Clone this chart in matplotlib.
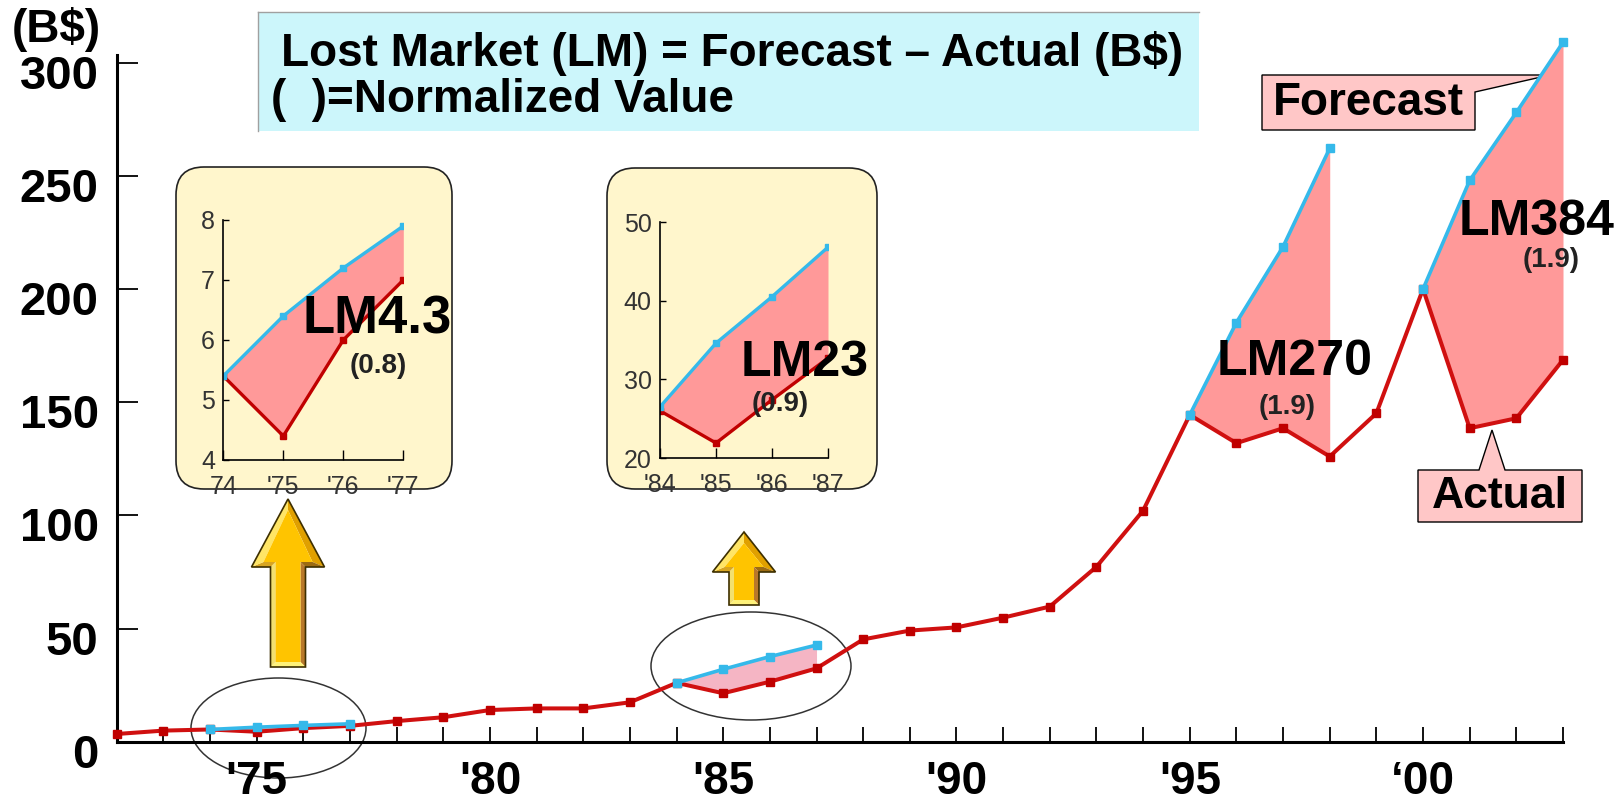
import numpy as np
import matplotlib.pyplot as plt
from matplotlib.patches import Rectangle, FancyBboxPatch, Ellipse, Polygon
from matplotlib.transforms import ScaledTranslation

plt.rcParams['font.family'] = ['Liberation Sans', 'DejaVu Sans']

W, H = 1621, 806

# market size (B$), actual results 1972-2003
years = np.arange(1972, 2004)
actual = [3.4, 4.9, 5.4, 4.4, 6.0, 7.0, 9.1, 10.8, 14.0, 14.7,
          14.7, 17.4, 26.0, 21.4, 26.5, 32.4, 45.2, 49.1, 50.5, 54.8,
          59.7, 77.3, 102.1, 144.4, 131.9, 138.5, 126.0, 145.1, 200.0, 138.5,
          142.9, 168.7]

# forecasts made at the start of each downturn
fc_years = [[1974, 1975, 1976, 1977],
            [1984, 1985, 1986, 1987],
            [1995, 1996, 1997, 1998],
            [2000, 2001, 2002, 2003]]
forecast = [[5.4, 6.4, 7.2, 7.9],
            [26.0, 32.0, 37.6, 42.7],
            [144.4, 185.2, 218.7, 262.2],
            [200.0, 248.0, 278.0, 309.0]]
fill_colors = ['#FF9999', '#F5B5C4', '#FF9999', '#FF9999']

# close-ups of the two early downturns
zoom1_years = [1974, 1975, 1976, 1977]
zoom1_labels = ['74', "'75", "'76", "'77"]
zoom1_fc = [5.4, 6.4, 7.2, 7.9]
zoom1_ac = [5.4, 4.4, 6.0, 7.0]

zoom2_years = [1984, 1985, 1986, 1987]
zoom2_labels = ["'84", "'85", "'86", "'87"]
zoom2_fc = [26.5, 34.6, 40.5, 46.8]
zoom2_ac = [26.0, 21.9, 27.4, 32.7]

xtick_text = {1975: "'75", 1980: "'80", 1985: "'85", 1990: "'90", 1995: "'95", 2000: "\u201800"}

RED = '#D01010'
CYAN = '#35B9EA'


def px_rect(x0, y0, x1, y1):
    return [x0 / W, 1 - y1 / H, (x1 - x0) / W, (y1 - y0) / H]


def px_text(x, y, s, **kw):
    fig.text(x / W, 1 - y / H, s, **kw)


def block_arrow(ax, cx, top, hb, bottom, shaft_w, head_w, d=5):
    s, h = shaft_w / 2, head_w / 2
    outer = [(cx, top), (cx + h, hb), (cx + s, hb), (cx + s, bottom),
             (cx - s, bottom), (cx - s, hb), (cx - h, hb)]
    inner = [(cx, top + 2.2 * d), (cx + h - 2.4 * d, hb - d), (cx + s - d, hb - d),
             (cx + s - d, bottom - d), (cx - s + d, bottom - d), (cx - s + d, hb - d),
             (cx - h + 2.4 * d, hb - d)]
    shades = ['#E0A000', '#9C6B12', '#B8782A', '#FFF27A', '#F2E070', '#D8A520', '#FFE566']
    for i in range(7):
        j = (i + 1) % 7
        ax.add_patch(Polygon([outer[i], outer[j], inner[j], inner[i]],
                             fc=shades[i], ec='none', zorder=2))
    ax.add_patch(Polygon(inner, fc='#FFC400', ec='none', zorder=3))
    ax.add_patch(Polygon(outer, fill=False, ec='#3D2F00', lw=1.2, zorder=4))


fig = plt.figure(figsize=(W / 100, H / 100), dpi=100)

# pixel-space layer for boxes, arrows and circles
bg = fig.add_axes([0, 0, 1, 1], zorder=0)
bg.set_xlim(0, W)
bg.set_ylim(H, 0)
bg.axis('off')

bg.add_patch(Rectangle((258, 12), 941, 119, fc='#CCF6FB', ec='none'))
bg.plot([258, 1199], [12, 12], color='#A0A0A0', lw=1)
bg.plot([258, 258], [12, 131], color='#A0A0A0', lw=1)

bg.add_patch(FancyBboxPatch((176, 167), 276, 322, boxstyle='round,pad=0,rounding_size=28',
                            fc='#FFF6CC', ec='#222222', lw=1.2))
bg.add_patch(FancyBboxPatch((607, 168), 270, 321, boxstyle='round,pad=0,rounding_size=28',
                            fc='#FFF6CC', ec='#222222', lw=1.2))

block_arrow(bg, 288, 499, 567, 667, 35, 73)
block_arrow(bg, 744, 532, 572, 605, 30, 63)

bg.add_patch(Ellipse((278.5, 728), 175, 100, fill=False, ec='#333333', lw=1.1))
bg.add_patch(Ellipse((751, 666), 200, 108, fill=False, ec='#333333', lw=1.1))

bg.add_patch(Polygon([(1262, 75), (1550, 75), (1475, 92), (1475, 130), (1262, 130)],
                     fc='#FFC7C7', ec='black', lw=1))
bg.add_patch(Polygon([(1418, 470), (1479, 470), (1492, 430), (1505, 470), (1582, 470),
                      (1582, 522), (1418, 522)], fc='#FFC7C7', ec='black', lw=1))

# main chart
ax = fig.add_axes(px_rect(116.7, 55, 1563, 741.7), zorder=1)
ax.set_facecolor('none')
actual_arr = np.array(actual)
for fy, fv, fc in zip(fc_years, forecast, fill_colors):
    fy = np.array(fy)
    ax.fill_between(fy, fv, actual_arr[fy - 1972], color=fc, lw=0, zorder=1, clip_on=False)
    ax.plot(fy, fv, color=CYAN, lw=2.6, marker='s', ms=5.5, zorder=4, clip_on=False)
ax.plot(years, actual, color=RED, lw=2.9, marker='s', ms=5.5, mfc='#C00000', mec='#C00000',
        zorder=3, clip_on=False)

ax.set_xlim(1972, 2003)
ax.set_ylim(0, 303.4)
ax.set_xticks(years)
ax.set_xticklabels([xtick_text.get(y, '') for y in years])
ax.set_yticks(np.arange(0, 301, 50))
for side in ['top', 'right']:
    ax.spines[side].set_visible(False)
for side in ['left', 'bottom']:
    ax.spines[side].set_linewidth(2.2)
ax.tick_params(axis='x', direction='in', length=11, width=1.3, pad=13, labelsize=33)
ax.tick_params(axis='y', direction='in', length=15, width=1.3, pad=13, labelsize=34)
shift = ScaledTranslation(0, -9 / 100, fig.dpi_scale_trans)
for lbl in ax.get_xticklabels() + ax.get_yticklabels():
    lbl.set_fontweight('bold')
for lbl in ax.get_yticklabels():
    lbl.set_transform(lbl.get_transform() + shift)


def close_up(rect, xs, labels, fc, ac, ylim, yticks):
    ins = fig.add_axes(rect, zorder=2)
    ins.set_facecolor('none')
    ins.fill_between(xs, fc, ac, color='#FF9999', lw=0)
    ins.plot(xs, ac, color='#C00000', lw=2.4, marker='s', ms=4)
    ins.plot(xs, fc, color=CYAN, lw=2.4, marker='s', ms=4)
    ins.set_xlim(xs[0], xs[-1])
    ins.set_ylim(*ylim)
    ins.set_xticks(xs)
    ins.set_xticklabels(labels)
    ins.set_yticks(yticks)
    for side in ['top', 'right']:
        ins.spines[side].set_visible(False)
    for side in ['left', 'bottom']:
        ins.spines[side].set_linewidth(1.2)
    ins.tick_params(axis='x', direction='in', length=7, width=1, pad=11,
                    labelsize=18, labelcolor='#333333')
    ins.tick_params(axis='y', direction='in', length=4, width=1, pad=6,
                    labelsize=18, labelcolor='#333333')
    return ins


close_up(px_rect(223.3, 220, 403.3, 460), zoom1_years, zoom1_labels, zoom1_fc, zoom1_ac,
         (4, 8), [4, 5, 6, 7, 8])
close_up(px_rect(660, 222, 828, 458), zoom2_years, zoom2_labels, zoom2_fc, zoom2_ac,
         (20, 50), [20, 30, 40, 50])

# text
px_text(56, 30, '(B$)', fontsize=33, fontweight='bold', ha='center', va='center')
px_text(281, 54, 'Lost Market (LM) = Forecast \u2013 Actual (B$)', fontsize=33,
        fontweight='bold', ha='left', va='center')
px_text(271, 100, '(  )=Normalized Value', fontsize=33, fontweight='bold',
        ha='left', va='center')

px_text(303, 320, 'LM4.3', fontsize=38, fontweight='bold', ha='left', va='center', zorder=5)
px_text(378, 366, '(0.8)', fontsize=20, fontweight='bold', color='#222222',
        ha='center', va='center', zorder=5)
px_text(805, 363, 'LM23', fontsize=36, fontweight='bold', ha='center', va='center', zorder=5)
px_text(780, 404, '(0.9)', fontsize=20, fontweight='bold', color='#222222',
        ha='center', va='center', zorder=5)
px_text(1295, 362, 'LM270', fontsize=36, fontweight='bold', ha='center', va='center', zorder=5)
px_text(1287, 407, '(1.9)', fontsize=20, fontweight='bold', color='#222222',
        ha='center', va='center', zorder=5)
px_text(1537, 222, 'LM384', fontsize=36, fontweight='bold', ha='center', va='center', zorder=5)
px_text(1551, 260, '(1.9)', fontsize=20, fontweight='bold', color='#222222',
        ha='center', va='center', zorder=5)

px_text(1368, 103, 'Forecast', fontsize=33, fontweight='bold', ha='center', va='center', zorder=5)
px_text(1500, 497, 'Actual', fontsize=32, fontweight='bold', ha='center', va='center', zorder=5)

fig.savefig('out.png', dpi=100)
